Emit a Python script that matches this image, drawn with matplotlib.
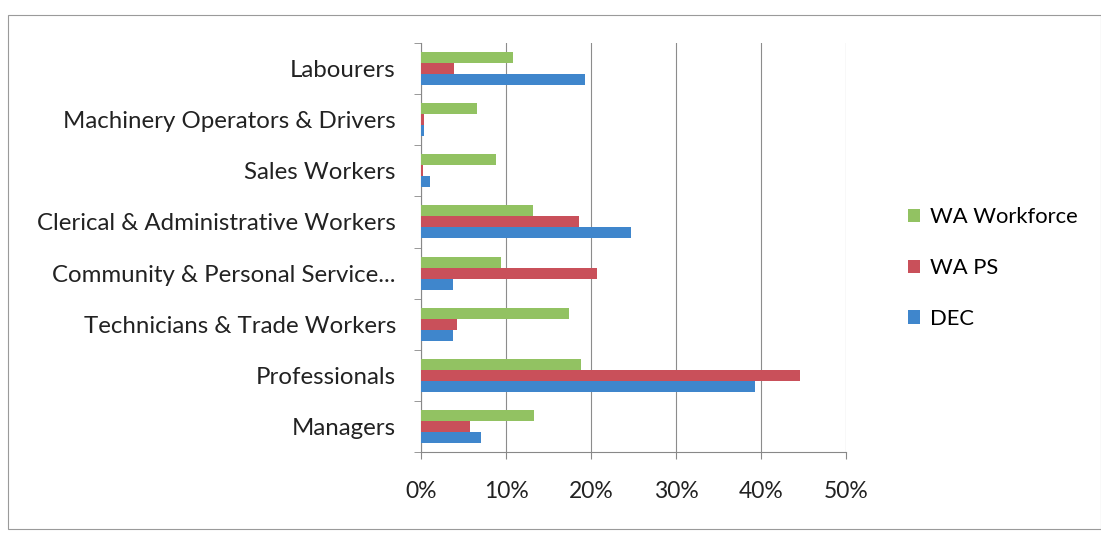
import matplotlib.pyplot as plt
import matplotlib.patches as mpatches
import numpy as np

# Occupation groups, listed bottom to top as drawn
categories = [
    'Managers',
    'Professionals',
    'Technicians & Trade Workers',
    'Community & Personal Service...',
    'Clerical & Administrative Workers',
    'Sales Workers',
    'Machinery Operators & Drivers',
    'Labourers',
]

# Share of each workforce by occupation (fractions)
dec = [0.070, 0.393, 0.038, 0.038, 0.247, 0.010, 0.0035, 0.193]
wa_ps = [0.058, 0.446, 0.042, 0.207, 0.186, 0.002, 0.004, 0.039]
wa_workforce = [0.133, 0.188, 0.174, 0.094, 0.132, 0.088, 0.066, 0.108]

x_ticks = [0, 0.1, 0.2, 0.3, 0.4, 0.5]
x_tick_labels = ['0%', '10%', '20%', '30%', '40%', '50%']

series = [
    ('DEC', dec, '#3f86cc'),
    ('WA PS', wa_ps, '#c9505a'),
    ('WA Workforce', wa_workforce, '#92c262'),
]

plt.rcParams['font.family'] = ['Lato', 'DejaVu Sans']
FS = 16.5

W, H = 1101, 533
fig = plt.figure(figsize=(W / 100, H / 100), dpi=100)

# outer chart frame
fig.patches.append(mpatches.Rectangle((8 / W, 4 / H), (W - 8) / W, (H - 19) / H,
                                      transform=fig.transFigure, fill=False,
                                      edgecolor='#9a9a9a', linewidth=0.8))

ax = fig.add_axes([421 / W, 1 - 452 / H, (846 - 421) / W, (452 - 43) / H])

y = np.arange(len(categories))
bar_h = 0.215
for i, (name, vals, color) in enumerate(series):
    ax.barh(y + (i - 1) * bar_h, vals, height=bar_h, color=color,
            label=name, zorder=3)

ax.set_xlim(0, 0.5)
ax.set_ylim(-0.5, len(categories) - 0.5)

ax.set_xticks(x_ticks)
ax.set_xticklabels(x_tick_labels, fontsize=FS, color='#222222')
ax.tick_params(axis='x', length=5, color='#888888', pad=16)

ax.set_yticks(y)
ax.set_yticklabels(categories, fontsize=FS + 0.8, color='#222222')
ax.set_yticks(np.arange(-0.5, len(categories)), minor=True)
ax.tick_params(axis='y', which='major', length=0, pad=18)
ax.tick_params(axis='y', which='minor', length=5, color='#888888')

ax.grid(axis='x', color='#8c8c8c', linewidth=0.8, zorder=0)
for side in ('top', 'right'):
    ax.spines[side].set_visible(False)
for side in ('left', 'bottom'):
    ax.spines[side].set_color('#888888')
    ax.spines[side].set_linewidth(0.8)

handles, labels = ax.get_legend_handles_labels()
fig.legend(handles[::-1], labels[::-1], loc='center left',
           bbox_to_anchor=(888 / W, 1 - 268 / H), frameon=False,
           fontsize=15.8, handlelength=0.55, handleheight=0.55,
           handletextpad=0.45, labelspacing=1.4)

fig.savefig('out.png', dpi=100, facecolor='white')
